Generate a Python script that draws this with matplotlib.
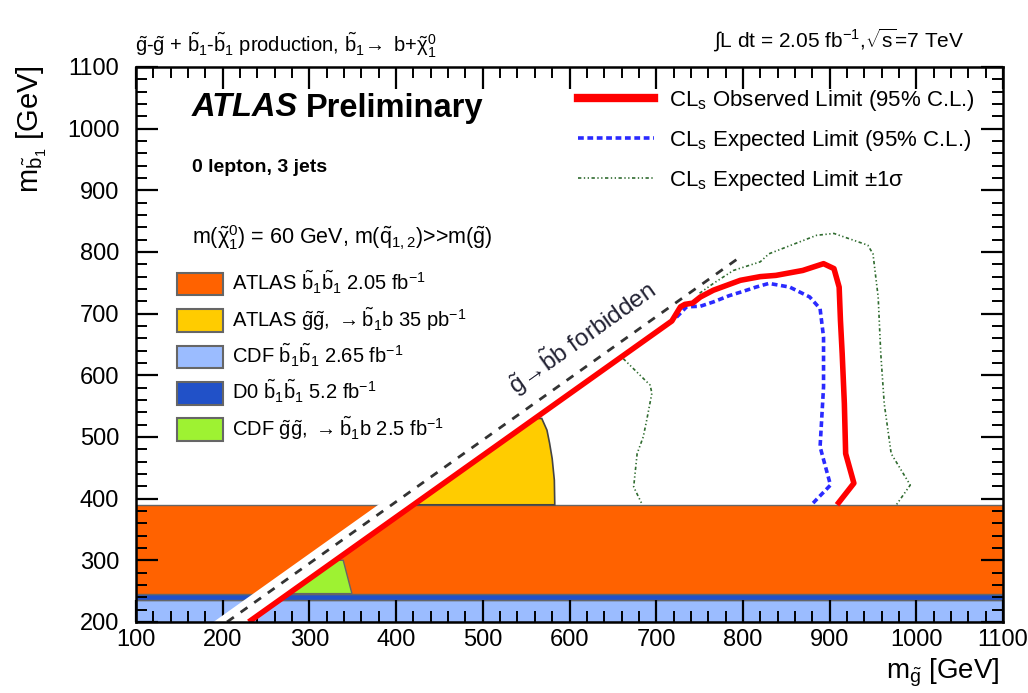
import matplotlib
matplotlib.use("Agg")
import matplotlib.pyplot as plt
from matplotlib.ticker import MultipleLocator
from matplotlib.patches import Patch
from matplotlib.lines import Line2D

plt.rcParams['font.family'] = ['Liberation Sans', 'DejaVu Sans']
plt.rcParams['mathtext.fontset'] = 'custom'
plt.rcParams['mathtext.rm'] = 'Liberation Sans'
plt.rcParams['mathtext.it'] = 'Liberation Sans'
plt.rcParams['mathtext.bf'] = 'Liberation Sans:bold'

# previous limits, as m_sbottom bands (GeV)
cdf_bb = [200, 236]
d0_bb = [236, 246]
atlas_bb = [246, 390]

# ATLAS gluino-gluino 35 pb-1 region
atlas_gg_x = [420, 560, 568, 574, 577, 580, 582.5, 583]
atlas_gg_y = [390, 530, 530, 511, 490, 465, 430, 390]

# CDF gluino-gluino 2.5 fb-1 region
cdf_gg_x = [276, 330, 339, 349]
cdf_gg_y = [246, 300, 300, 246]

# kinematic limit g -> b~ b
forbidden_x = [205, 800]
forbidden_y = [200, 795]
strip_y = [200, 400]
strip_left = [188, 388]
strip_right = [230, 430]

# CLs observed limit
obs_x = [230, 635, 718, 728, 733, 742, 751, 766, 797, 820, 838, 869, 893, 905,
         911, 912.5, 914.5, 917, 918.5, 928, 908.5]
obs_y = [200, 605, 688, 711, 715, 717, 727, 738, 754, 760, 762, 770, 781, 773,
         743, 689, 635, 554, 473, 425, 390]

# CLs expected limit
exp_x = [715, 724, 735, 751, 766, 784, 800, 815, 830, 854, 877, 889, 893, 893,
         889, 901, 879]
exp_y = [685, 695, 711, 712, 719, 729, 736, 743, 749, 743, 727, 708, 662, 581,
         484, 422, 390]

# expected +/- 1 sigma
up_x = [750, 766, 789, 820, 830, 885, 905, 944, 950, 956, 959, 963, 971, 993, 977]
up_y = [733, 749, 770, 784, 797, 827, 830, 811, 797, 727, 635, 554, 473, 422, 390]
dn_x = [662, 693, 695, 689, 685, 678, 674, 684]
dn_y = [627, 584, 571, 527, 500, 473, 419, 390]

c_orange = '#ff6200'
c_yellow = '#ffcc00'
c_lblue = '#9bbcff'
c_dblue = '#2151c8'
c_green = '#9ef232'
edge = '#666666'
sig_ls = (0, (2, 1.5, 0.8, 1.5, 0.8, 1.5))

fig = plt.figure(figsize=(10.28, 6.93), dpi=100)
ax = fig.add_axes([0.1323, 0.1025, 0.8434, 0.8009])

ax.fill_between([100, 1100], cdf_bb[0], cdf_bb[1], color=c_lblue, ec=edge, lw=1, zorder=1)
ax.fill_between([100, 1100], d0_bb[0], d0_bb[1], color=c_dblue, ec=edge, lw=1, zorder=1)
ax.fill_between([100, 1100], atlas_bb[0], atlas_bb[1], color=c_orange, ec=edge, lw=1, zorder=1)
ax.fill(atlas_gg_x, atlas_gg_y, color=c_yellow, ec='#444444', lw=1.2, zorder=2)
ax.fill(cdf_gg_x, cdf_gg_y, color=c_green, ec=edge, lw=1, zorder=2)
ax.fill_betweenx(strip_y, strip_left, strip_right, color='white', lw=0, zorder=3)

ax.plot(forbidden_x, forbidden_y, color='#333333', lw=2, dashes=(3, 3), zorder=4)
ax.plot(dn_x, dn_y, color='#2f6b2f', lw=1.2, ls=sig_ls, zorder=4)
ax.plot(up_x, up_y, color='#2f6b2f', lw=1.2, ls=sig_ls, zorder=4)
ax.plot(exp_x, exp_y, color='#2a2aff', lw=2.6, dashes=(1.6, 1.0), zorder=5)
ax.plot(obs_x, obs_y, color='#ff0000', lw=4, solid_capstyle='butt', zorder=6)

ax.text(614, 661, r'$\tilde{\rm g}\!\rightarrow\!\tilde{\rm b}$b forbidden', fontsize=17.5,
        rotation=35.4, rotation_mode='anchor', ha='center', va='center', color='#222233', zorder=7)

ax.set_xlim(100, 1100)
ax.set_ylim(200, 1100)
ax.xaxis.set_major_locator(MultipleLocator(100))
ax.xaxis.set_minor_locator(MultipleLocator(20))
ax.yaxis.set_major_locator(MultipleLocator(100))
ax.yaxis.set_minor_locator(MultipleLocator(20))
ax.tick_params(which='both', direction='in', top=True, right=True, zorder=10)
ax.tick_params(which='major', length=16, width=1.6, labelsize=17)
ax.tick_params(which='minor', length=8, width=1.4)
ax.tick_params(axis='x', pad=5)
ax.tick_params(axis='y', pad=12)
for s in ax.spines.values():
    s.set_linewidth(1.8)
    s.set_zorder(10)

# legend: previous results
patches = [Patch(fc=c_orange, ec=edge, lw=1.5), Patch(fc=c_yellow, ec=edge, lw=1.5),
           Patch(fc=c_lblue, ec=edge, lw=1.5), Patch(fc=c_dblue, ec=edge, lw=1.5),
           Patch(fc=c_green, ec=edge, lw=1.5)]
plabels = [r'ATLAS $\tilde{\rm b}_1\tilde{\rm b}_1$ 2.05 fb$^{-1}$',
           r'ATLAS $\tilde{\rm g}\tilde{\rm g}$, $\rightarrow\tilde{\rm b}_1$b 35 pb$^{-1}$',
           r'CDF $\tilde{\rm b}_1\tilde{\rm b}_1$ 2.65 fb$^{-1}$',
           r'D0 $\tilde{\rm b}_1\tilde{\rm b}_1$ 5.2 fb$^{-1}$',
           r'CDF $\tilde{\rm g}\tilde{\rm g}$, $\rightarrow\tilde{\rm b}_1$b 2.5 fb$^{-1}$']
leg1 = ax.legend(patches, plabels, loc='upper left', bbox_to_anchor=(0.0473, 0.636),
                 frameon=False, fontsize=14.5, handlelength=2.3, handleheight=1.35,
                 labelspacing=0.45, handletextpad=0.45, borderpad=0, borderaxespad=0)
ax.add_artist(leg1)

lines = [Line2D([], [], color='#ff0000', lw=6),
         Line2D([], [], color='#2a2aff', lw=2.6, dashes=(1.6, 1.0)),
         Line2D([], [], color='#2f6b2f', lw=1.2, ls=sig_ls)]
llabels = [r'CL$_{\rm s}$ Observed Limit (95% C.L.)',
           r'CL$_{\rm s}$ Expected Limit (95% C.L.)',
           r'CL$_{\rm s}$ Expected Limit $\pm$1$\sigma$']
ax.legend(lines, llabels, loc='upper left', bbox_to_anchor=(0.51, 0.962),
          frameon=False, fontsize=16, handlelength=3.4, labelspacing=0.68,
          handletextpad=0.7, borderpad=0, borderaxespad=0)

fig.text(192 / 1028, 1 - 108 / 693, 'ATLAS', fontsize=23.5, fontweight='bold',
         fontstyle='italic', va='center')
fig.text(306 / 1028, 1 - 108 / 693, 'Preliminary', fontsize=23.5, fontweight='bold', va='center')
fig.text(192 / 1028, 1 - 168 / 693, '0 lepton, 3 jets', fontsize=14, fontweight='bold', va='center')
fig.text(192 / 1028, 1 - 238 / 693,
         r'm($\tilde{\chi}_1^0$) = 60 GeV, m($\tilde{\rm q}_{1,2}$)>>m($\tilde{\rm g}$)',
         fontsize=15.5, va='center')

fig.text(135 / 1028, 1 - 45 / 693,
         r'$\tilde{\rm g}$-$\tilde{\rm g}$ + $\tilde{\rm b}_1$-$\tilde{\rm b}_1$ production, '
         r'$\tilde{\rm b}_1\!\rightarrow$ b+$\tilde{\chi}_1^0$', fontsize=14.5, va='center')
fig.text(713 / 1028, 1 - 40 / 693,
         r'$\int$L dt = 2.05 fb$^{-1}$,$\sqrt{\rm s}$=7 TeV', fontsize=15, va='center')

fig.text(32 / 1028, 1 - 65 / 693, r'm$_{\tilde{\rm b}_1}$ [GeV]', fontsize=21,
         rotation=90, ha='center', va='top')
fig.text(1000 / 1028, 1 - 657 / 693, r'm$_{\tilde{\rm g}}$ [GeV]', fontsize=20,
         ha='right', va='top')

fig.savefig('out.png', dpi=100)
